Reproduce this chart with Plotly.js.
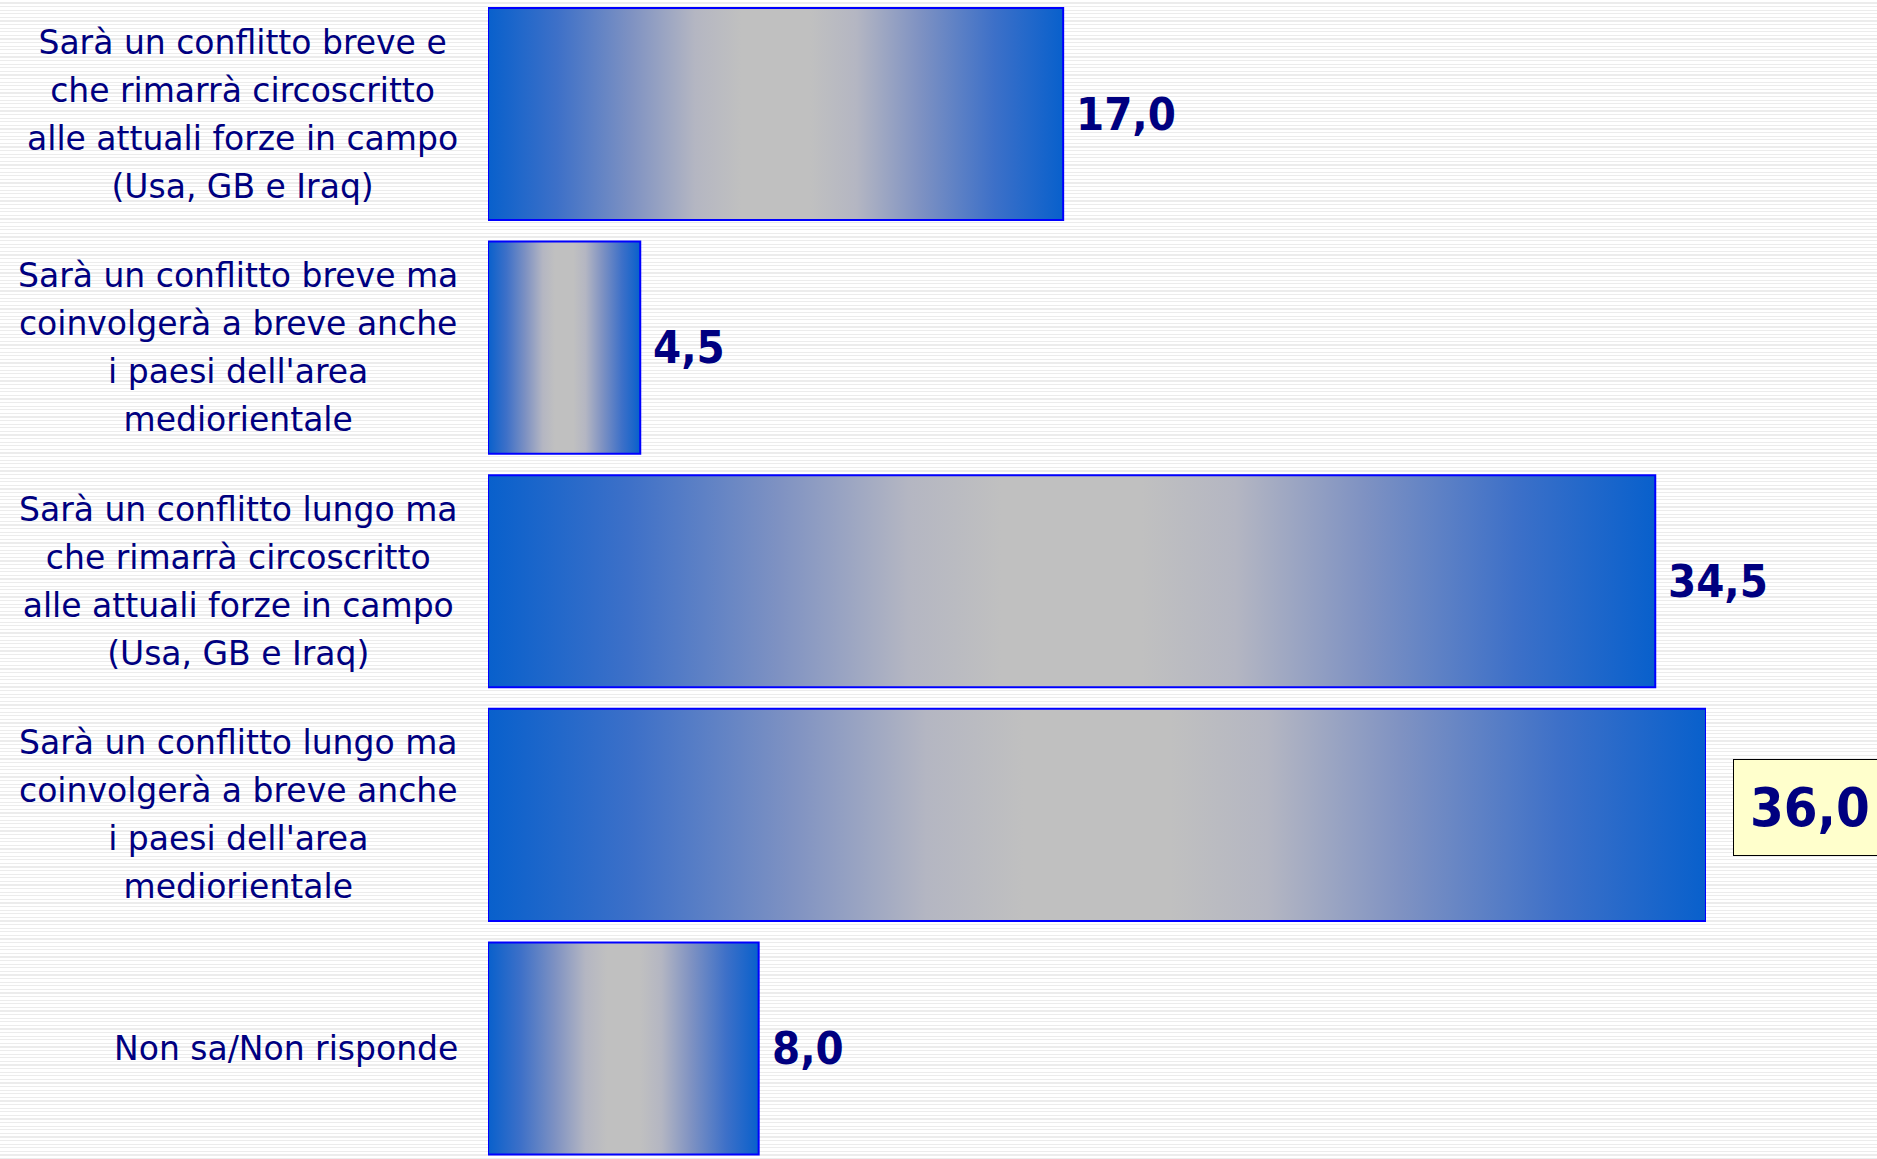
<!DOCTYPE html>
<html>
<head>
<meta charset="utf-8">
<script src="https://cdn.plot.ly/plotly-3.0.1.min.js"></script>
<style>
  html, body { margin: 0; padding: 0; }
  body {
    width: 1877px; height: 1159px; overflow: hidden;
    background: repeating-linear-gradient(to bottom, #ffffff 0px, #ffffff 2.4px, #ececec 2.4px, #ececec 3.6px);
  }
  #chart { width: 1877px; height: 1159px; }
</style>
</head>
<body>
<div id="chart"></div>
<script>
// ---- data ----
const categories = [
  "Sarà un conflitto breve e<br>che rimarrà circoscritto<br>alle attuali forze in campo<br>(Usa, GB e Iraq)",
  "Sarà un conflitto breve ma<br>coinvolgerà a breve anche<br>i paesi dell'area<br>mediorientale",
  "Sarà un conflitto lungo ma<br>che rimarrà circoscritto<br>alle attuali forze in campo<br>(Usa, GB e Iraq)",
  "Sarà un conflitto lungo ma<br>coinvolgerà a breve anche<br>i paesi dell'area<br>mediorientale",
  "Non sa/Non risponde"
];
const values = [17.0, 4.5, 34.5, 36.0, 8.0];
const valueLabels = ["17,0", "4,5", "34,5", "36,0", "8,0"];
const highlighted = [false, false, false, true, false];

// ---- styling ----
const xMax = 36;
const barWidth = 0.908;
const navy = "#000080";
const gradient = [
  [0, "#0860cc"], [0.12, "#3d70c8"], [0.25, "#7f92c2"], [0.36, "#b4b6c2"],
  [0.44, "#c0c0c0"], [0.56, "#c0c0c0"], [0.64, "#b4b6c2"],
  [0.75, "#7f92c2"], [0.88, "#3d70c8"], [1, "#0860cc"]
];

const traces = values.map((v, i) => ({
  type: "scatter",
  mode: "lines",
  x: [0, v, v, 0, 0],
  y: [i - barWidth / 2, i - barWidth / 2, i + barWidth / 2, i + barWidth / 2, i - barWidth / 2],
  fill: "toself",
  fillgradient: { type: "horizontal", colorscale: gradient, start: 0, stop: v },
  line: { color: "#0000ff", width: 2 },
  hoverinfo: "skip",
  showlegend: false
}));

const annotations = [];
categories.forEach((c, i) => {
  annotations.push({
    xref: "paper", yref: "y", x: 0, y: i,
    xanchor: "right", yanchor: "middle", xshift: -28,
    text: '<span style="font-size:33px">' + c + '</span>',
    align: "center", showarrow: false,
    font: { family: "DejaVu Sans", size: 37, color: navy }
  });
});
values.forEach((v, i) => {
  if (highlighted[i]) {
    annotations.push({
      xref: "paper", yref: "y", x: 1, y: i,
      xanchor: "left", yanchor: "middle", xshift: 27, yshift: 7,
      text: "<b>" + valueLabels[i] + "</b>",
      width: 200, align: "left", showarrow: false,
      bgcolor: "#ffffcc", bordercolor: "#000000", borderwidth: 1, borderpad: 16,
      font: { family: "DejaVu Sans Condensed", size: 54, color: navy }
    });
  } else {
    annotations.push({
      xref: "x", yref: "y", x: v, y: i,
      xanchor: "left", yanchor: "middle", xshift: 11,
      text: "<b>" + valueLabels[i] + "</b>",
      showarrow: false,
      font: { family: "DejaVu Sans Condensed", size: 45, color: navy }
    });
  }
});

const layout = {
  width: 1877, height: 1159,
  margin: { l: 488, r: 171, t: 0, b: 0 },
  paper_bgcolor: "rgba(0,0,0,0)",
  plot_bgcolor: "rgba(0,0,0,0)",
  xaxis: { range: [0, xMax], visible: false, fixedrange: true },
  yaxis: { range: [4.473, -0.488], visible: false, fixedrange: true },
  annotations: annotations,
  showlegend: false
};

Plotly.newPlot("chart", traces, layout, { displayModeBar: false, staticPlot: true });
</script>
</body>
</html>
